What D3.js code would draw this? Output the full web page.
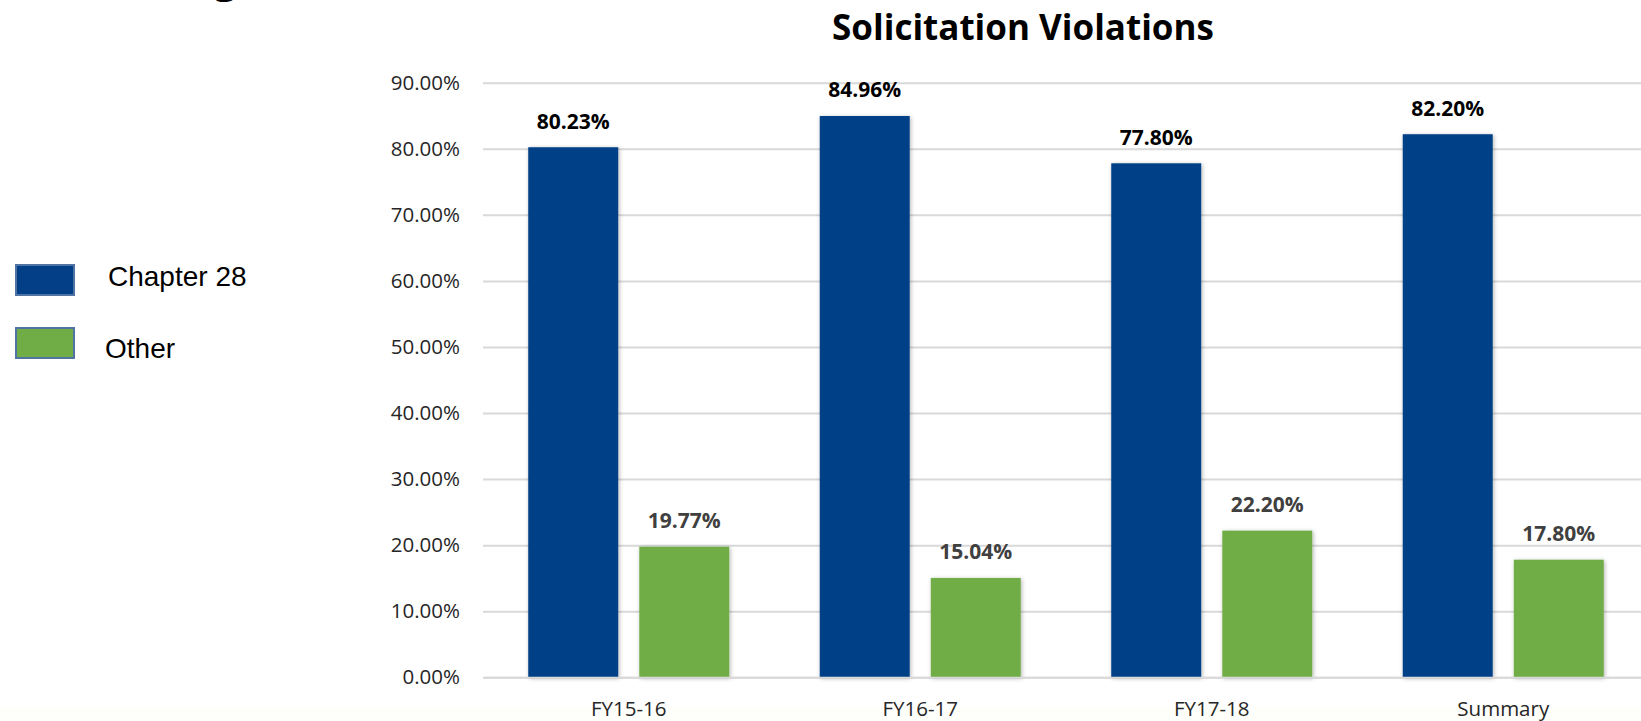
<!DOCTYPE html>
<html>
<head>
<meta charset="utf-8">
<script src="https://cdn.jsdelivr.net/npm/d3@7"></script>
<style>
  body { margin: 0; background: #fff; }
  svg { display: block; }
</style>
</head>
<body>
<div id="svgdiv"></div>
<script>
// chart data
var categories = ["FY15-16", "FY16-17", "FY17-18", "Summary"];
var seriesNames = ["Chapter 28", "Other"];
var chapter28 = [0.8023, 0.8496, 0.7780, 0.8220];
var other = [0.1977, 0.1504, 0.2220, 0.1780];
var yTicks = [0, 0.1, 0.2, 0.3, 0.4, 0.5, 0.6, 0.7, 0.8, 0.9];
var titleText = "Solicitation Violations";

// styling
var colors = { "Chapter 28": "#023f87", "Other": "#70ad47" };
var labelColors = { "Chapter 28": "#000000", "Other": "#404040" };
var gridcolor = "#d9d9d9";
var svgextent = [1641, 721];

var rows = categories.map(function (c, i) {
    return { cat: c, values: [
        { key: "Chapter 28", value: chapter28[i] },
        { key: "Other", value: other[i] }
    ] };
});

var svg = d3.select("#svgdiv").append("svg")
    .attr("width", svgextent[0])
    .attr("height", svgextent[1]);

// soft shadow the bars have in the original
var defs = svg.append("defs");
defs.append("filter").attr("id", "shadow")
    .attr("x", "-20%").attr("y", "-5%").attr("width", "140%").attr("height", "110%")
    .append("feDropShadow")
    .attr("dx", 1).attr("dy", 1).attr("stdDeviation", 2)
    .attr("flood-color", "#000").attr("flood-opacity", 0.3);

// faint band along the bottom edge
svg.append("rect")
    .attr("x", 0).attr("y", 706)
    .attr("width", svgextent[0]).attr("height", 15)
    .attr("fill", "#fefefa");

// leftover glyph of the slide heading, cut at the top
svg.append("text")
    .attr("x", 214).attr("y", -7)
    .attr("font-family", "Open Sans")
    .attr("font-weight", "bold")
    .attr("font-size", 40)
    .text("g");

// scales
var x0 = d3.scaleBand()
    .domain(categories)
    .range([483, 1649])
    .paddingInner(0)
    .paddingOuter(0);

var groupW = 201;
var x1 = d3.scaleBand()
    .domain(seriesNames)
    .range([(x0.bandwidth() - groupW) / 2, (x0.bandwidth() + groupW) / 2])
    .paddingInner(0.19);

var y = d3.scaleLinear()
    .domain([0, 0.9])
    .range([677.3, 82.7]);

var fmt = d3.format(".2%");

// gridlines + y labels
var yAxis = svg.append("g")
    .attr("transform", "translate(483,0)")
    .call(d3.axisLeft(y)
        .tickValues(yTicks)
        .tickFormat(fmt)
        .tickSize(-(1649 - 483))
        .tickPadding(23));
yAxis.select(".domain").remove();
yAxis.selectAll(".tick line")
    .attr("stroke", gridcolor)
    .attr("stroke-width", 2);
yAxis.selectAll(".tick text")
    .attr("fill", "#262626")
    .attr("font-family", "Open Sans")
    .attr("font-size", 20.5);

// bars
var groups = svg.append("g")
    .selectAll("g")
    .data(rows)
    .enter()
    .append("g")
    .attr("transform", function (d) { return "translate(" + x0(d.cat) + ",0)"; });

groups.selectAll("rect")
    .data(function (d) { return d.values; })
    .enter()
    .append("rect")
    .attr("x", function (d) { return x1(d.key); })
    .attr("y", function (d) { return y(d.value); })
    .attr("width", x1.bandwidth())
    .attr("height", function (d) { return y(0) - y(d.value); })
    .attr("fill", function (d) { return colors[d.key]; })
    .attr("filter", "url(#shadow)");

// value labels
groups.selectAll("text")
    .data(function (d) { return d.values; })
    .enter()
    .append("text")
    .attr("x", function (d) { return x1(d.key) + x1.bandwidth() / 2; })
    .attr("y", function (d) { return y(d.value) - 18.5; })
    .attr("text-anchor", "middle")
    .attr("font-family", "Open Sans")
    .attr("font-weight", "bold")
    .attr("font-size", 21)
    .attr("fill", function (d) { return labelColors[d.key]; })
    .text(function (d) { return fmt(d.value); });

// x axis baseline + labels
var xAxis = svg.append("g")
    .attr("transform", "translate(0," + y(0) + ")")
    .call(d3.axisBottom(x0).tickSize(0).tickPadding(24));
xAxis.select(".domain")
    .attr("stroke", gridcolor)
    .attr("stroke-width", 2);
xAxis.selectAll(".tick text")
    .attr("fill", "#262626")
    .attr("font-family", "Open Sans")
    .attr("font-size", 20.5);

// title
svg.append("text")
    .attr("x", 1023)
    .attr("y", 40)
    .attr("text-anchor", "middle")
    .attr("font-family", "Open Sans")
    .attr("font-weight", "bold")
    .attr("font-size", 35)
    .attr("fill", "#000")
    .text(titleText);

// legend on the left
var legend = svg.append("g").attr("class", "legend");
var legendRows = [
    { key: "Chapter 28", top: 265, base: 286 },
    { key: "Other", top: 328, base: 358 }
];
legend.selectAll("rect")
    .data(legendRows)
    .enter()
    .append("rect")
    .attr("x", 16)
    .attr("y", function (d) { return d.top; })
    .attr("width", 58)
    .attr("height", 30)
    .attr("fill", function (d) { return colors[d.key]; })
    .attr("stroke", "#4f74a3")
    .attr("stroke-width", 2);
legend.selectAll("text")
    .data(legendRows)
    .enter()
    .append("text")
    .attr("x", function (d) { return d.key === "Other" ? 105 : 108; })
    .attr("y", function (d) { return d.base; })
    .attr("font-family", "Liberation Sans")
    .attr("font-size", 28)
    .attr("fill", "#000")
    .text(function (d) { return d.key; });
</script>
</body>
</html>
